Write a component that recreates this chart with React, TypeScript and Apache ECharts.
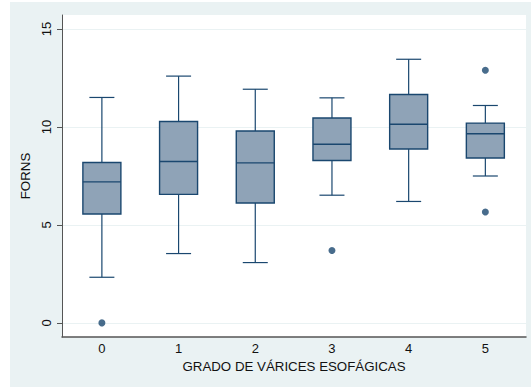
import React, { useEffect, useRef } from "react";
import * as echarts from "echarts";

const categories = [0, 1, 2, 3, 4, 5];
const whiskerLow = [2.33, 3.54, 3.08, 6.52, 6.2, 7.5];
const q1 = [5.56, 6.56, 6.12, 8.29, 8.88, 8.42];
const median = [7.2, 8.24, 8.17, 9.12, 10.14, 9.66];
const q3 = [8.19, 10.28, 9.8, 10.46, 11.66, 10.2];
const whiskerHigh = [11.51, 12.6, 11.93, 11.49, 13.46, 11.1];
const outlierGroup = [0, 3, 5, 5];
const outlierValue = [0, 3.7, 12.9, 5.66];
const yTicks = [0, 5, 10, 15];
const xTitle = "GRADO DE VÁRICES ESOFÁGICAS";
const yTitle = "FORNS";

const NAVY = "#1a476f";
const FILL = "#8fa3b7";
const FONT = "Liberation Sans, Arial, sans-serif";

export default function App() {
  const ref = useRef<HTMLDivElement>(null);
  useEffect(() => {
    if (!ref.current) return;
    const chart = echarts.init(ref.current, undefined, { renderer: "svg" });
    const boxData = categories.map((c, i) => [c, whiskerLow[i], q1[i], median[i], q3[i], whiskerHigh[i]]);
    const outliers = outlierGroup.map((g, i) => [g, outlierValue[i]]);
    chart.setOption({
      animation: false,
      backgroundColor: "#eaf2f3",
      textStyle: { fontFamily: FONT },
      graphic: [
        { type: "rect", left: 0, top: 0, shape: { x: 0, y: 0, width: 10, height: 387 }, style: { fill: "#fff" }, silent: true },
        { type: "rect", left: 0, top: 0, shape: { x: 0, y: 0, width: 531, height: 2 }, style: { fill: "#fff" }, silent: true },
      ],
      grid: {
        left: 62,
        top: 15,
        width: 464,
        height: 322,
        show: true,
        backgroundColor: "#ffffff",
        borderWidth: 0,
      },
      xAxis: {
        type: "value",
        min: -0.52,
        max: 5.53,
        name: xTitle,
        nameLocation: "middle",
        nameGap: 20,
        nameTextStyle: { fontSize: 13.3, color: "#111", fontFamily: FONT },
        axisLine: { show: true, onZero: false, lineStyle: { color: "#555", width: 1.5 } },
        axisTick: { show: false },
        splitLine: { show: false },
        axisLabel: {
          customValues: categories,
          fontSize: 13,
          color: "#111",
          margin: 5,
          fontFamily: FONT,
        },
      },
      yAxis: {
        type: "value",
        min: -0.72,
        max: 15.72,
        name: yTitle,
        nameLocation: "middle",
        nameGap: 20,
        nameTextStyle: { fontSize: 13.3, color: "#111", fontFamily: FONT },
        axisLine: { show: true, onZero: false, lineStyle: { color: "#555", width: 1 } },
        axisTick: { show: true, customValues: yTicks, length: 5, lineStyle: { color: "#555" } },
        splitLine: { show: true, lineStyle: { color: "#eaf2f3", width: 1 } },
        axisLabel: {
          customValues: yTicks,
          rotate: 90,
          fontSize: 13,
          color: "#111",
          margin: 9,
          fontFamily: FONT,
        },
      },
      series: [
        {
          type: "custom",
          data: boxData,
          encode: { x: 0, y: [1, 2, 3, 4, 5] },
          renderItem: (params: any, api: any) => {
            const x = api.value(0);
            const pLow = api.coord([x, api.value(1)]);
            const pQ1 = api.coord([x, api.value(2)]);
            const pMed = api.coord([x, api.value(3)]);
            const pQ3 = api.coord([x, api.value(4)]);
            const pHigh = api.coord([x, api.value(5)]);
            const cx = pLow[0];
            const hb = 19;
            const hc = 12.5;
            const lineStyle = { stroke: NAVY, lineWidth: 1.2, fill: "none" };
            return {
              type: "group",
              children: [
                { type: "line", shape: { x1: cx, y1: pLow[1], x2: cx, y2: pQ1[1] }, style: lineStyle },
                { type: "line", shape: { x1: cx, y1: pQ3[1], x2: cx, y2: pHigh[1] }, style: lineStyle },
                { type: "line", shape: { x1: cx - hc, y1: pLow[1], x2: cx + hc, y2: pLow[1] }, style: lineStyle },
                { type: "line", shape: { x1: cx - hc, y1: pHigh[1], x2: cx + hc, y2: pHigh[1] }, style: lineStyle },
                {
                  type: "rect",
                  shape: { x: cx - hb, y: pQ3[1], width: 2 * hb, height: pQ1[1] - pQ3[1] },
                  style: { fill: FILL, stroke: NAVY, lineWidth: 1.4 },
                },
                { type: "line", shape: { x1: cx - hb, y1: pMed[1], x2: cx + hb, y2: pMed[1] }, style: { stroke: NAVY, lineWidth: 1.4 } },
              ],
            };
          },
        },
        {
          type: "scatter",
          data: outliers,
          symbol: "circle",
          symbolSize: 7,
          itemStyle: { color: NAVY },
          clip: false,
        },
      ],
    });
    return () => chart.dispose();
  }, []);
  return <div ref={ref} style={{ position: "fixed", left: 0, top: 0, width: 531, height: 387 }} />;
}
